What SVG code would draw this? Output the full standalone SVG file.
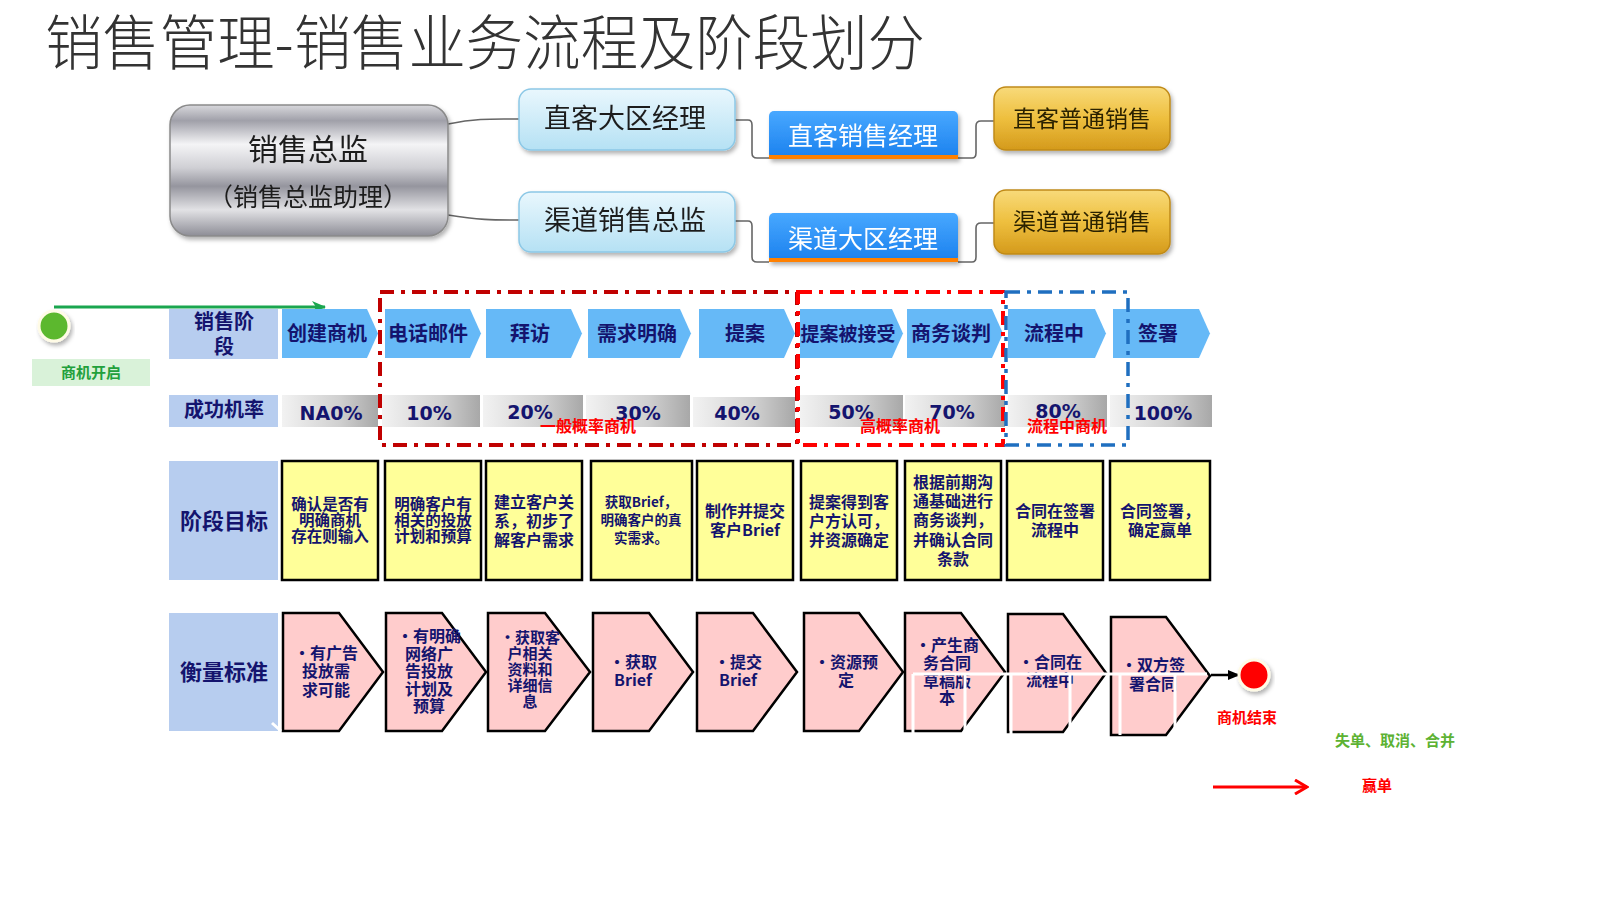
<svg xmlns="http://www.w3.org/2000/svg" width="1600" height="900" viewBox="0 0 1600 900">
<style>
text{font-family:"Noto Sans CJK SC","Noto Sans",sans-serif;}
.title{font-size:60px;fill:#333;font-weight:300;}
.org{fill:#1e1e1e;font-weight:normal;}
.nv{fill:#14146e;font-weight:bold;text-anchor:middle;}
.lbl{fill:#b7cdef;}
.chev{fill:#66b9f7;}
.rate{fill:url(#gRate);}
.yel{fill:#ffff99;stroke:#000;stroke-width:2.5;}
.pink{fill:#ffcccc;stroke:#000;stroke-width:2.5;stroke-linejoin:miter;}
.rt{font-family:"DejaVu Sans","Liberation Sans",sans-serif;font-size:19px;fill:#14146e;font-weight:bold;text-anchor:middle;}
.red{fill:#ff0000;font-weight:bold;text-anchor:middle;}
.green{fill:#22a03c;font-weight:bold;text-anchor:middle;}
.conn{fill:none;stroke:#666;stroke-width:1.6;}
.wl{stroke:#fff;stroke-width:3;fill:none;}
</style>
<defs>
<linearGradient id="gRate" x1="0" y1="0" x2="1" y2="0">
<stop offset="0" stop-color="#f2f2f2"/><stop offset="0.6" stop-color="#d0d0d0"/><stop offset="1" stop-color="#a8a8a8"/>
</linearGradient>
<linearGradient id="gMetal" x1="0" y1="0" x2="0" y2="1">
<stop offset="0" stop-color="#d8d8dc"/><stop offset="0.12" stop-color="#a0a0a9"/><stop offset="0.3" stop-color="#f4f4f6"/><stop offset="0.48" stop-color="#cfcfd4"/><stop offset="0.62" stop-color="#95959e"/><stop offset="0.8" stop-color="#e2e2e5"/><stop offset="1" stop-color="#8d8d96"/>
</linearGradient>
<linearGradient id="gLb" x1="0" y1="0" x2="0" y2="1">
<stop offset="0" stop-color="#e9f7fd"/><stop offset="1" stop-color="#b5e1f4"/>
</linearGradient>
<linearGradient id="gBlue" x1="0" y1="0" x2="0" y2="1">
<stop offset="0" stop-color="#48a8ff"/><stop offset="1" stop-color="#1a80ee"/>
</linearGradient>
<linearGradient id="gGold" x1="0" y1="0" x2="0" y2="1">
<stop offset="0" stop-color="#f8da7a"/><stop offset="0.5" stop-color="#eebf3e"/><stop offset="1" stop-color="#d49a1c"/>
</linearGradient>
<filter id="sh" x="-10%" y="-10%" width="130%" height="140%">
<feDropShadow dx="2" dy="3" stdDeviation="2" flood-color="#000" flood-opacity="0.3"/>
</filter>
<marker id="mGreen" markerWidth="14" markerHeight="12" refX="13" refY="6" orient="auto" markerUnits="userSpaceOnUse">
<path d="M0,0 L14,6 L0,12 L4,6 Z" fill="#1aa64f"/>
</marker>
<marker id="mBlack" markerWidth="12" markerHeight="10" refX="12" refY="5" orient="auto" markerUnits="userSpaceOnUse">
<path d="M0,0 L12,5 L0,10 Z" fill="#000"/>
</marker>
<marker id="mRed" markerWidth="16" markerHeight="16" refX="14" refY="8" orient="auto" markerUnits="userSpaceOnUse">
<path d="M2,1 L14,8 L2,15" fill="none" stroke="#ff0000" stroke-width="3"/>
</marker>
</defs>
<rect width="1600" height="900" fill="#fff"/>

<text class="title" x="45" y="65" textLength="880" lengthAdjust="spacingAndGlyphs">销售管理-销售业务流程及阶段划分</text>

<g id="connectors">
<path class="conn" d="M448,124 C478,118 492,119 519,119"/>
<path class="conn" d="M448,215 C478,220 492,220 519,220"/>
<path class="conn" d="M735,120 L748,120 Q752,120 752,125 L752,153 Q752,158 757,158 L769,158"/>
<path class="conn" d="M958,158 L972,158 Q976,158 976,153 L976,126 Q976,121 981,121 L994,121"/>
<path class="conn" d="M735,221 L748,221 Q752,221 752,226 L752,257 Q752,262 757,262 L769,262"/>
<path class="conn" d="M958,262 L972,262 Q976,262 976,257 L976,228 Q976,223 981,223 L994,223"/>
<line x1="54" y1="307" x2="325" y2="307" stroke="#1aa64f" stroke-width="3" marker-end="url(#mGreen)"/>
<line x1="1211" y1="675" x2="1240" y2="675" stroke="#000" stroke-width="2.5" marker-end="url(#mBlack)"/>
<line x1="1213" y1="787" x2="1307" y2="787" stroke="#ff0000" stroke-width="3" marker-end="url(#mRed)"/>
</g>

<g id="n-director" filter="url(#sh)">
<rect x="170" y="105" width="278" height="131" rx="20" fill="url(#gMetal)" stroke="#8a8a8a" stroke-width="1.5"/>
<text class="org" x="308" y="160" font-size="30" text-anchor="middle">销售总监</text>
<text class="org" x="308" y="206" font-size="25" text-anchor="middle">（销售总监助理）</text>
</g>
<g id="n-dk-region" filter="url(#sh)">
<rect x="519" y="89" width="216" height="61" rx="12" fill="url(#gLb)" stroke="#8cc8e6" stroke-width="1.5"/>
<text class="org" x="625" y="128" font-size="27" text-anchor="middle">直客大区经理</text>
</g>
<g id="n-qd-director" filter="url(#sh)">
<rect x="519" y="192" width="216" height="60" rx="12" fill="url(#gLb)" stroke="#8cc8e6" stroke-width="1.5"/>
<text class="org" x="625" y="230" font-size="27" text-anchor="middle">渠道销售总监</text>
</g>
<g id="n-dk-manager" filter="url(#sh)">
<rect x="769" y="111" width="189" height="48" rx="5" fill="url(#gBlue)"/>
<rect x="769" y="155" width="189" height="4" fill="#ff8000"/>
<text x="863" y="145" font-size="25" fill="#fff" text-anchor="middle">直客销售经理</text>
</g>
<g id="n-qd-region" filter="url(#sh)">
<rect x="769" y="213" width="189" height="49" rx="5" fill="url(#gBlue)"/>
<rect x="769" y="258" width="189" height="4" fill="#ff8000"/>
<text x="863" y="248" font-size="25" fill="#fff" text-anchor="middle">渠道大区经理</text>
</g>
<g id="n-dk-sales" filter="url(#sh)">
<rect x="994" y="87" width="176" height="63" rx="12" fill="url(#gGold)" stroke="#c08a18" stroke-width="1.5"/>
<text x="1082" y="127" font-size="23" fill="#2a2000" text-anchor="middle">直客普通销售</text>
</g>
<g id="n-qd-sales" filter="url(#sh)">
<rect x="994" y="190" width="176" height="64" rx="12" fill="url(#gGold)" stroke="#c08a18" stroke-width="1.5"/>
<text x="1082" y="230" font-size="23" fill="#2a2000" text-anchor="middle">渠道普通销售</text>
</g>

<g id="n-start">
<circle cx="54" cy="326" r="15" fill="#5cb82e" stroke="#fffbe6" stroke-width="3" filter="url(#sh)"/>
<rect x="32" y="359" width="118" height="27" fill="#d9f2d9"/>
<text class="green" x="91" y="378" font-size="15">商机开启</text>
</g>

<g id="row-stage">
<rect class="lbl" x="169" y="309" width="109" height="50"/>
<text class="nv" x="224" y="329" font-size="20">销售阶</text>
<text class="nv" x="224" y="354" font-size="20">段</text>
<path class="chev" d="M282,309 L367,309 L378,333.5 L367,358 L282,358 Z"/>
<path class="chev" d="M385,309 L470,309 L481,333.5 L470,358 L385,358 Z"/>
<path class="chev" d="M486,309 L571,309 L582,333.5 L571,358 L486,358 Z"/>
<path class="chev" d="M588,309 L680,309 L691,333.5 L680,358 L588,358 Z"/>
<path class="chev" d="M699,309 L784,309 L795,333.5 L784,358 L699,358 Z"/>
<path class="chev" d="M800,309 L892,309 L903,333.5 L892,358 L800,358 Z"/>
<path class="chev" d="M907,309 L992,309 L1003,333.5 L992,358 L907,358 Z"/>
<path class="chev" d="M1008,309 L1095,309 L1106,333.5 L1095,358 L1008,358 Z"/>
<path class="chev" d="M1113,309 L1199,309 L1210,333.5 L1199,358 L1113,358 Z"/>
<text class="nv" x="327" y="341" font-size="20">创建商机</text>
<text class="nv" x="428" y="341" font-size="20">电话邮件</text>
<text class="nv" x="530" y="341" font-size="20">拜访</text>
<text class="nv" x="637" y="341" font-size="20">需求明确</text>
<text class="nv" x="745" y="341" font-size="20">提案</text>
<text class="nv" x="848" y="341" font-size="19">提案被接受</text>
<text class="nv" x="951" y="341" font-size="20">商务谈判</text>
<text class="nv" x="1054" y="341" font-size="20">流程中</text>
<text class="nv" x="1158" y="341" font-size="20">签署</text>
</g>

<g id="row-rate">
<rect class="lbl" x="169" y="395" width="109" height="32"/>
<text class="nv" x="224" y="417" font-size="20">成功机率</text>
<rect class="rate" x="282" y="395" width="96" height="32"/>
<rect class="rate" x="382" y="395" width="98" height="32"/>
<rect class="rate" x="483" y="395" width="100" height="32"/>
<rect class="rate" x="586" y="395" width="104" height="32"/>
<rect class="rate" x="693" y="397" width="102" height="30"/>
<rect class="rate" x="800" y="395" width="103" height="32"/>
<rect class="rate" x="905" y="395" width="100" height="32"/>
<rect class="rate" x="1008" y="395" width="99" height="32"/>
<rect class="rate" x="1110" y="395" width="102" height="32"/>
<text class="rt" x="331" y="420">NA0%</text>
<text class="rt" x="429" y="420">10%</text>
<text class="rt" x="530" y="419">20%</text>
<text class="rt" x="638" y="420">30%</text>
<text class="rt" x="737" y="420">40%</text>
<text class="rt" x="851" y="419">50%</text>
<text class="rt" x="952" y="419">70%</text>
<text class="rt" x="1058" y="418">80%</text>
<text class="rt" x="1163" y="420">100%</text>
</g>

<g id="groups">
<rect x="380" y="292" width="417" height="153" fill="none" stroke="#c00000" stroke-width="4" stroke-dasharray="14,7,4,7"/>
<rect x="798" y="292" width="205" height="153" fill="none" stroke="#ff0000" stroke-width="4" stroke-dasharray="14,7,4,7"/>
<rect x="1006" y="292" width="122" height="153" fill="none" stroke="#1f6fc0" stroke-width="3.5" stroke-dasharray="14,7,4,7"/>
<text class="red" x="588" y="432" font-size="16">一般概率商机</text>
<text class="red" x="900" y="432" font-size="16">高概率商机</text>
<text class="red" x="1067" y="432" font-size="16">流程中商机</text>
</g>

<g id="row-goal">
<rect class="lbl" x="169" y="461" width="109" height="119"/>
<text class="nv" x="224" y="529" font-size="22">阶段目标</text>
<rect class="yel" x="282" y="461" width="96" height="119"/>
<rect class="yel" x="385" y="461" width="96" height="119"/>
<rect class="yel" x="486" y="461" width="96" height="119"/>
<rect class="yel" x="591" y="461" width="101" height="119"/>
<rect class="yel" x="697" y="461" width="96" height="119"/>
<rect class="yel" x="801" y="461" width="96" height="119"/>
<rect class="yel" x="905" y="461" width="96" height="119"/>
<rect class="yel" x="1007" y="461" width="96" height="119"/>
<rect class="yel" x="1110" y="461" width="100" height="119"/>
<text class="nv" font-size="15.5"><tspan x="330" y="510">确认是否有</tspan><tspan x="330" y="526">明确商机</tspan><tspan x="330" y="542">存在则输入</tspan></text>
<text class="nv" font-size="15.5"><tspan x="433" y="510">明确客户有</tspan><tspan x="433" y="526">相关的投放</tspan><tspan x="433" y="542">计划和预算</tspan></text>
<text class="nv" font-size="16"><tspan x="534" y="508">建立客户关</tspan><tspan x="534" y="527">系，初步了</tspan><tspan x="534" y="546">解客户需求</tspan></text>
<text class="nv" font-size="13.5"><tspan x="641" y="507">获取Brief，</tspan><tspan x="641" y="525">明确客户的真</tspan><tspan x="641" y="543">实需求。</tspan></text>
<text class="nv" font-size="16"><tspan x="745" y="517">制作并提交</tspan><tspan x="745" y="536">客户Brief</tspan></text>
<text class="nv" font-size="16"><tspan x="849" y="508">提案得到客</tspan><tspan x="849" y="527">户方认可，</tspan><tspan x="849" y="546">并资源确定</tspan></text>
<text class="nv" font-size="16"><tspan x="953" y="488">根据前期沟</tspan><tspan x="953" y="507">通基础进行</tspan><tspan x="953" y="526">商务谈判，</tspan><tspan x="953" y="546">并确认合同</tspan><tspan x="953" y="565">条款</tspan></text>
<text class="nv" font-size="16"><tspan x="1055" y="517">合同在签署</tspan><tspan x="1055" y="536">流程中</tspan></text>
<text class="nv" font-size="16"><tspan x="1160" y="517">合同签署，</tspan><tspan x="1160" y="536">确定赢单</tspan></text>
</g>

<g id="row-measure">
<rect class="lbl" x="169" y="613" width="109" height="118"/>
<text class="nv" x="224" y="680" font-size="22">衡量标准</text>
<path class="pink" d="M283,613 L339,613 L383,672 L339,731 L283,731 Z"/>
<path class="pink" d="M386,613 L442,613 L486,672 L442,731 L386,731 Z"/>
<path class="pink" d="M488,613 L545,613 L590,672 L545,731 L488,731 Z"/>
<path class="pink" d="M593,613 L649,613 L693,672 L649,731 L593,731 Z"/>
<path class="pink" d="M697,613 L753,613 L797,672 L753,731 L697,731 Z"/>
<path class="pink" d="M804,613 L859,613 L903,672 L859,731 L804,731 Z"/>
<path class="pink" d="M905,613 L961,613 L1005,672 L961,731 L905,731 Z"/>
<path class="pink" d="M1008,614 L1063,614 L1106,673 L1063,732 L1008,732 Z"/>
<path class="pink" d="M1111,617 L1166,617 L1210,676 L1166,735 L1111,735 Z"/>
<text class="nv" font-size="16"><tspan x="326" y="659">•有广告</tspan><tspan x="326" y="677">投放需</tspan><tspan x="326" y="696">求可能</tspan></text>
<text class="nv" font-size="16"><tspan x="429" y="642">•有明确</tspan><tspan x="429" y="660">网络广</tspan><tspan x="429" y="677">告投放</tspan><tspan x="429" y="695">计划及</tspan><tspan x="429" y="712">预算</tspan></text>
<text class="nv" font-size="15"><tspan x="530" y="643">•获取客</tspan><tspan x="530" y="659">户相关</tspan><tspan x="530" y="675">资料和</tspan><tspan x="530" y="691">详细信</tspan><tspan x="530" y="707">息</tspan></text>
<text class="nv" font-size="16"><tspan x="633" y="668">•获取</tspan><tspan x="633" y="686">Brief</tspan></text>
<text class="nv" font-size="16"><tspan x="738" y="668">•提交</tspan><tspan x="738" y="686">Brief</tspan></text>
<text class="nv" font-size="16"><tspan x="846" y="668">•资源预</tspan><tspan x="846" y="686">定</tspan></text>
<text class="nv" font-size="16"><tspan x="947" y="651">•产生商</tspan><tspan x="947" y="669">务合同</tspan><tspan x="947" y="687">草稿版</tspan><tspan x="947" y="704">本</tspan></text>
<text class="nv" font-size="16"><tspan x="1050" y="668">•合同在</tspan><tspan x="1050" y="686">流程中</tspan></text>
<text class="nv" font-size="16"><tspan x="1153" y="671">•双方签</tspan><tspan x="1153" y="690">署合同</tspan></text>
<path class="wl" d="M913,674 L1207,674 M913,674 L913,735 M965,674 L965,735 M1011,674 L1011,735 M1070,674 L1070,735 M1120,674 L1120,735 M1175,674 L1175,737 M272,723 L281,731"/>
</g>

<g id="n-end">
<circle cx="1254" cy="675" r="15" fill="#ff0000" stroke="#fffbe6" stroke-width="3" filter="url(#sh)"/>
<text class="red" x="1247" y="723" font-size="15">商机结束</text>
</g>

<g id="legend">
<text x="1395" y="746" font-size="15" fill="#5db233" font-weight="bold" text-anchor="middle">失单、取消、合并</text>
<text class="red" x="1377" y="791" font-size="15">赢单</text>
</g>
</svg>
